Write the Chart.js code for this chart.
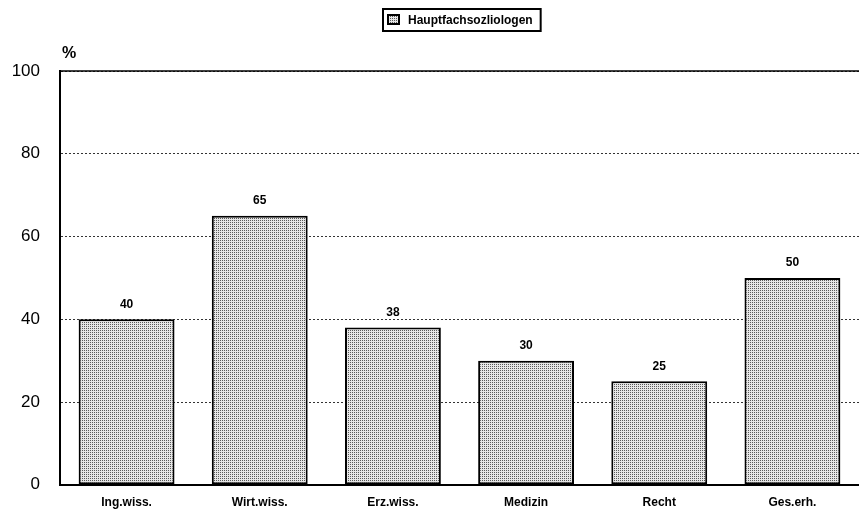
<!DOCTYPE html>
<html>
<head>
<meta charset="utf-8">
<script src="https://cdn.jsdelivr.net/npm/chart.js@4.4.1/dist/chart.umd.min.js"></script>
<style>
  html, body { margin: 0; padding: 0; background: #fff; overflow: hidden; }
  canvas { display: block; }
</style>
</head>
<body>
<canvas id="c" width="859" height="515"></canvas>
<script>
// Fächer der Erwerbstätigkeit
const categories = ['Ing.wiss.', 'Wirt.wiss.', 'Erz.wiss.', 'Medizin', 'Recht', 'Ges.erh.'];
// Anteil Hauptfachsoziologen in %
const hauptfach = [40, 65, 38, 30, 25, 50];
const seriesLabel = 'Hauptfachsozliologen';
const yTicks = [0, 20, 40, 60, 80, 100];

// Dotted raster fill for the bars
function makeDotPattern() {
  const t = document.createElement('canvas');
  t.width = 2; t.height = 2;
  const g = t.getContext('2d');
  g.fillStyle = '#e6e6e6';
  g.fillRect(0, 0, 2, 2);
  g.fillStyle = '#5a5a5a';
  g.fillRect(0, 0, 1, 1);
  return g.createPattern(t, 'repeat');
}
const dots = makeDotPattern();

const FONT = '"Liberation Sans", Arial, sans-serif';

const decor = {
  id: 'decor',
  afterDraw(chart) {
    const { ctx, chartArea } = chart;
    ctx.save();
    // solid line at 100 %
    ctx.strokeStyle = '#000';
    ctx.lineWidth = 1.5;
    ctx.beginPath();
    ctx.moveTo(chartArea.left, chartArea.top);
    ctx.lineTo(chart.width, chartArea.top);
    ctx.stroke();

    // unit label above the value axis
    ctx.fillStyle = '#000';
    ctx.font = 'bold 16px ' + FONT;
    ctx.textAlign = 'left';
    ctx.textBaseline = 'alphabetic';
    ctx.fillText('%', 62, 58);

    // value labels above bars
    ctx.font = 'bold 12px ' + FONT;
    ctx.textAlign = 'center';
    ctx.textBaseline = 'bottom';
    const meta = chart.getDatasetMeta(0);
    meta.data.forEach((bar, i) => {
      ctx.fillText(String(hauptfach[i]), bar.x, bar.y - 9);
    });

    // boxed legend
    ctx.font = 'bold 12px ' + FONT;
    const tw = ctx.measureText(seriesLabel).width;
    const bx = 383, by = 9, bh = 22;
    const bw = tw + 33;
    ctx.lineWidth = 2;
    ctx.strokeStyle = '#000';
    ctx.strokeRect(bx, by, bw, bh);
    ctx.fillStyle = dots;
    ctx.fillRect(bx + 5, by + 6, 11, 9);
    ctx.lineWidth = 2;
    ctx.strokeRect(bx + 5, by + 6, 11, 9);
    ctx.fillStyle = '#000';
    ctx.textAlign = 'left';
    ctx.textBaseline = 'middle';
    ctx.fillText(seriesLabel, bx + 25, by + bh / 2 + 1);
    ctx.restore();
  }
};

new Chart(document.getElementById('c'), {
  type: 'bar',
  data: {
    labels: categories,
    datasets: [{
      label: seriesLabel,
      data: hauptfach,
      backgroundColor: dots,
      borderColor: '#000',
      borderWidth: 2,
      borderSkipped: false,
      barPercentage: 0.72,
      categoryPercentage: 1.0
    }]
  },
  options: {
    responsive: false,
    animation: false,
    layout: { padding: { top: 71, right: -4, left: 0, bottom: -2 } },
    plugins: { legend: { display: false }, tooltip: { enabled: false } },
    scales: {
      x: {
        grid: { display: false, drawTicks: false },
        border: { display: true, color: '#000', width: 2 },
        ticks: {
          color: '#000',
          font: { family: FONT, size: 12, weight: 'bold' },
          padding: 11,
          maxRotation: 0
        },
        afterFit(s) { s.height = 28; }
      },
      y: {
        min: 0, max: 100,
        afterBuildTicks(s) { s.ticks = yTicks.map(v => ({ value: v })); },
        grid: {
          color: '#333',
          lineWidth: 1,
          drawTicks: false
        },
        border: { display: true, color: '#000', width: 2, dash: [2, 2] },
        ticks: {
          color: '#000',
          font: { family: FONT, size: 17 },
          padding: 20
        },
        afterFit(s) { s.width = 60; }
      }
    }
  },
  plugins: [decor]
});
</script>
</body>
</html>
